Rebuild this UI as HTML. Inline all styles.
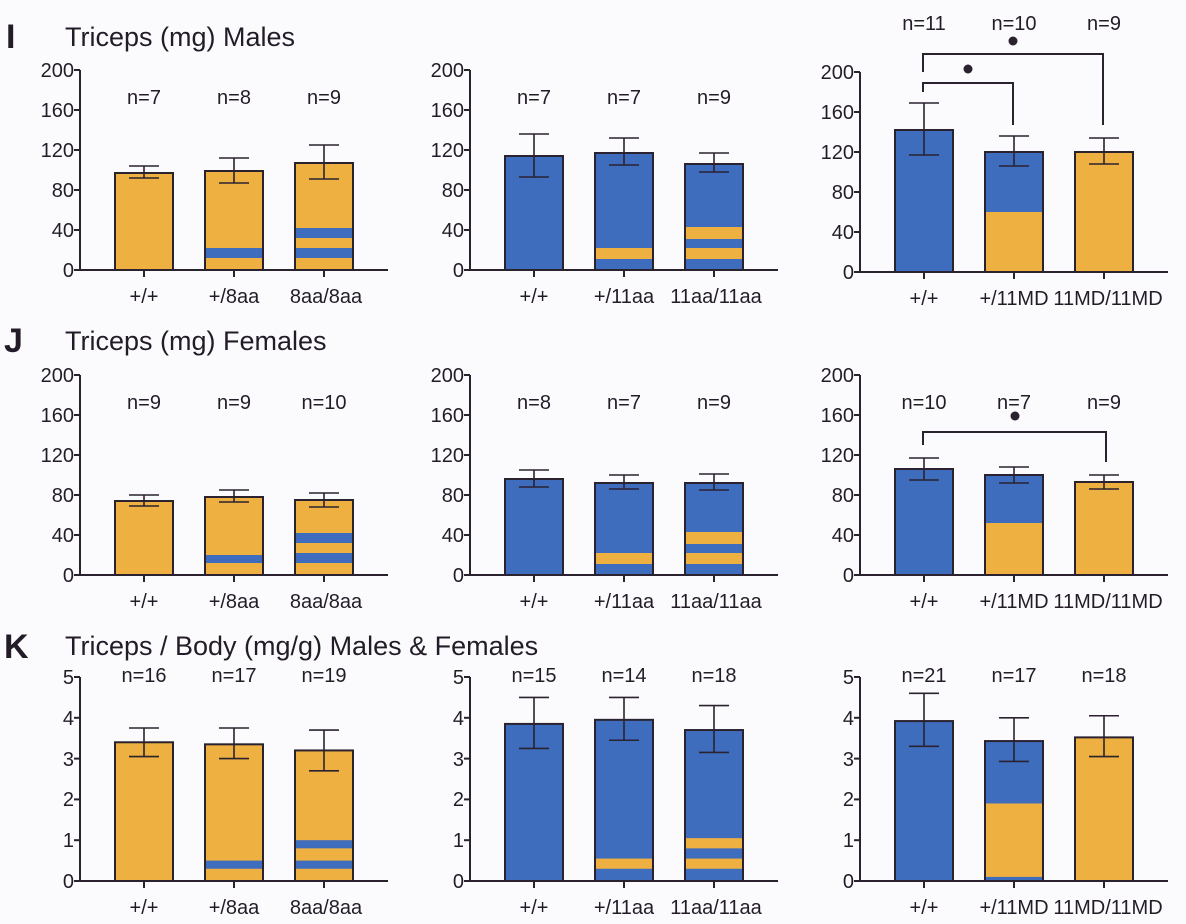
<!DOCTYPE html>
<html><head><meta charset="utf-8"><style>
html,body{margin:0;padding:0;background:#fbfbfd;}
svg{display:block;font-family:"Liberation Sans",Arial,sans-serif;}
text{fill:#231c28;}
</style></head><body>
<svg id="s" width="1186" height="924" viewBox="0 0 1186 924" xmlns="http://www.w3.org/2000/svg">
<rect width="1186" height="924" fill="#fbfbfd"/>
<g id="shapes"></g>
<text x="6" y="48" font-size="34" font-weight="bold">I</text>
<text x="65" y="46" font-size="27">Triceps (mg) Males</text>
<text x="4" y="352" font-size="34" font-weight="bold">J</text>
<text x="65" y="350" font-size="27">Triceps (mg) Females</text>
<text x="4" y="658" font-size="34" font-weight="bold">K</text>
<text x="65" y="655" font-size="27">Triceps / Body (mg/g) Males &amp; Females</text>
<g font-size="20" text-anchor="end">
<text x="74" y="277">0</text><text x="74" y="237">40</text><text x="74" y="197">80</text><text x="74" y="157">120</text><text x="74" y="117">160</text><text x="74" y="77">200</text>
<text x="464" y="277">0</text><text x="464" y="237">40</text><text x="464" y="197">80</text><text x="464" y="157">120</text><text x="464" y="117">160</text><text x="464" y="77">200</text>
<text x="854" y="279">0</text><text x="854" y="239">40</text><text x="854" y="199">80</text><text x="854" y="159">120</text><text x="854" y="119">160</text><text x="854" y="79">200</text>
<text x="74" y="582">0</text><text x="74" y="542">40</text><text x="74" y="502">80</text><text x="74" y="462">120</text><text x="74" y="422">160</text><text x="74" y="382">200</text>
<text x="464" y="582">0</text><text x="464" y="542">40</text><text x="464" y="502">80</text><text x="464" y="462">120</text><text x="464" y="422">160</text><text x="464" y="382">200</text>
<text x="854" y="582">0</text><text x="854" y="542">40</text><text x="854" y="502">80</text><text x="854" y="462">120</text><text x="854" y="422">160</text><text x="854" y="382">200</text>
<text x="74" y="888">0</text><text x="74" y="847">1</text><text x="74" y="806">2</text><text x="74" y="766">3</text><text x="74" y="725">4</text><text x="74" y="684">5</text>
<text x="464" y="888">0</text><text x="464" y="847">1</text><text x="464" y="806">2</text><text x="464" y="766">3</text><text x="464" y="725">4</text><text x="464" y="684">5</text>
<text x="854" y="888">0</text><text x="854" y="847">1</text><text x="854" y="806">2</text><text x="854" y="766">3</text><text x="854" y="725">4</text><text x="854" y="684">5</text>
</g>
<g font-size="20" text-anchor="middle">
<text x="144" y="104">n=7</text><text x="234" y="104">n=8</text><text x="324" y="104">n=9</text>
<text x="534" y="104">n=7</text><text x="624" y="104">n=7</text><text x="714" y="104">n=9</text>
<text x="924" y="30">n=11</text><text x="1014" y="30">n=10</text><text x="1104" y="30">n=9</text>
<text x="144" y="409">n=9</text><text x="234" y="409">n=9</text><text x="324" y="409">n=10</text>
<text x="534" y="409">n=8</text><text x="624" y="409">n=7</text><text x="714" y="409">n=9</text>
<text x="924" y="409">n=10</text><text x="1014" y="409">n=7</text><text x="1104" y="409">n=9</text>
<text x="144" y="682">n=16</text><text x="234" y="682">n=17</text><text x="324" y="682">n=19</text>
<text x="534" y="682">n=15</text><text x="624" y="682">n=14</text><text x="714" y="682">n=18</text>
<text x="924" y="682">n=21</text><text x="1014" y="682">n=17</text><text x="1104" y="682">n=18</text>
<text x="144" y="303">+/+</text><text x="234" y="303">+/8aa</text><text x="326" y="303">8aa/8aa</text>
<text x="534" y="303">+/+</text><text x="624" y="303">+/11aa</text><text x="716" y="303">11aa/11aa</text>
<text x="924" y="305">+/+</text><text x="1014" y="305">+/11MD</text><text x="1108" y="305">11MD/11MD</text>
<text x="144" y="608">+/+</text><text x="234" y="608">+/8aa</text><text x="326" y="608">8aa/8aa</text>
<text x="534" y="608">+/+</text><text x="624" y="608">+/11aa</text><text x="716" y="608">11aa/11aa</text>
<text x="924" y="608">+/+</text><text x="1014" y="608">+/11MD</text><text x="1108" y="608">11MD/11MD</text>
<text x="144" y="914">+/+</text><text x="234" y="914">+/8aa</text><text x="326" y="914">8aa/8aa</text>
<text x="534" y="914">+/+</text><text x="624" y="914">+/11aa</text><text x="716" y="914">11aa/11aa</text>
<text x="924" y="914">+/+</text><text x="1014" y="914">+/11MD</text><text x="1108" y="914">11MD/11MD</text>
</g>
</svg>
<script>
(function(){
var O="#EDB041",B="#3F6DBE",K="#2b2230";
var g=document.getElementById("shapes"),h="";
function L(x1,y1,x2,y2,w){h+='<line x1="'+x1+'" y1="'+y1+'" x2="'+x2+'" y2="'+y2+'" stroke="'+K+'" stroke-width="'+(w||2)+'"/>';}
function R(x,y,w,hh,f){h+='<rect x="'+x+'" y="'+y+'" width="'+w+'" height="'+hh+'" fill="'+f+'"/>';}
function panel(ax,zy,sc,nt,step,bars){
  var top=zy-nt*step*sc;
  var off=[35,125,215];
  bars.forEach(function(b,i){
    var x=ax+off[i],w=58,yt=zy-b[0]*sc;
    R(x,yt,w,zy-yt,b[3]);
    (b[4]||[]).forEach(function(s){R(x,zy-s[1]*sc,w,(s[1]-s[0])*sc,s[2]);});
    h+='<rect x="'+x+'" y="'+yt+'" width="'+w+'" height="'+(zy-yt)+'" fill="none" stroke="'+K+'" stroke-width="2"/>';
    var cx=x+29;
    L(cx,zy-b[1]*sc,cx,zy-b[2]*sc,1.6);
    L(cx-15,zy-b[1]*sc,cx+15,zy-b[1]*sc,1.6);
    L(cx-15,zy-b[2]*sc,cx+15,zy-b[2]*sc,1.6);
    L(cx,zy,cx,zy+7,2);
  });
  L(ax,top,ax,zy,2);
  for(var t=0;t<=nt;t++){L(ax-6,zy-t*step*sc,ax,zy-t*step*sc,2);}
  L(ax,zy,ax+308,zy,2);
}
var s8=[[12,22,B]],s88=[[12,22,B],[32,42,B]];
var o11=[[11,22,O]],o1111=[[11,22,O],[31,43,O]];
panel(80,270,1,5,40,[[97,92,104,O],[99,87,112,O,s8],[107,91,125,O,s88]]);
panel(470,270,1,5,40,[[114,93,136,B],[117,105,132,B,o11],[106,98,117,B,o1111]]);
panel(860,272,1,5,40,[[142,117,169,B],[120,106,136,B,[[0,60,O]]],[120,108,134,O]]);
panel(80,575,1,5,40,[[74,69,80,O],[78,73,85,O,[[12,20,B]]],[75,68,82,O,s88]]);
panel(470,575,1,5,40,[[96,88,105,B],[92,86,100,B,o11],[92,85,101,B,o1111]]);
panel(860,575,1,5,40,[[106,95,117,B],[100,92,108,B,[[0,52,O]]],[93,86,100,O]]);
var k=40.8;
panel(80,881,k,5,1,[[3.4,3.05,3.75,O],[3.35,3.0,3.75,O,[[0.3,0.5,B]]],[3.2,2.7,3.7,O,[[0.3,0.5,B],[0.8,1.0,B]]]]);
panel(470,881,k,5,1,[[3.85,3.25,4.5,B],[3.95,3.45,4.5,B,[[0.3,0.55,O]]],[3.7,3.15,4.3,B,[[0.3,0.55,O],[0.8,1.05,O]]]]);
panel(860,881,k,5,1,[[3.92,3.3,4.6,B],[3.43,2.93,4.0,B,[[0,1.9,O],[0,0.1,B]]],[3.52,3.05,4.05,O]]);
h+='<polyline points="923,72 923,54 1103,54 1103,125" fill="none" stroke="'+K+'" stroke-width="2"/>';
h+='<polyline points="923,92 923,83 1013,83 1013,125" fill="none" stroke="'+K+'" stroke-width="2"/>';
h+='<circle cx="1013" cy="41" r="4.5" fill="'+K+'"/><circle cx="968" cy="69" r="4.5" fill="'+K+'"/>';
h+='<polyline points="923,445 923,432 1106,432 1106,462" fill="none" stroke="'+K+'" stroke-width="2"/>';
h+='<circle cx="1015" cy="416" r="4.5" fill="'+K+'"/>';
g.innerHTML=h;
})();
</script>
</body></html>
